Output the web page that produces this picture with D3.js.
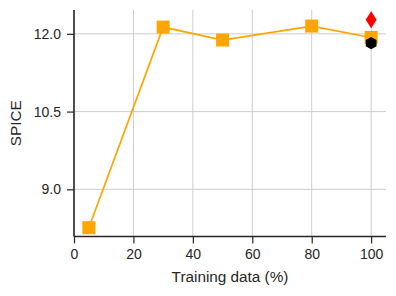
<!DOCTYPE html>
<html>
<head>
<meta charset="utf-8">
<script src="https://cdn.jsdelivr.net/npm/d3@7"></script>
<style>
  body { margin: 0; background: #fff; }
  svg { display: block; font-family: "Liberation Sans", Arial, sans-serif; }
</style>
</head>
<body>
<div id="chart"></div>
<script>
const trainPct = [5, 30, 50, 80, 100]
const spice = [8.26, 12.13, 11.88, 12.15, 11.93]
const extraRed = [{ x: 100, y: 12.27 }]
const extraBlack = [{ x: 100, y: 11.82 }]
const xTicks = [0, 20, 40, 60, 80, 100]
const yTicks = [9.0, 10.5, 12.0]

const W = 396, H = 296
const margin = { top: 10, right: 10, bottom: 59.5, left: 74 }
const width = W - margin.left - margin.right
const height = H - margin.top - margin.bottom

const svg = d3.select("#chart").append("svg")
    .attr("width", W).attr("height", H)

const g = svg.append("g")
    .attr("transform", `translate(${margin.left},${margin.top})`)

const x = d3.scaleLinear().domain([0, 105]).range([0, width])
const y = d3.scaleLinear().domain([8.09, 12.46]).range([height, 0])

// grid
g.selectAll(".vgrid").data(xTicks).enter().append("line")
    .attr("x1", d => x(d)).attr("x2", d => x(d))
    .attr("y1", 0).attr("y2", height)
    .attr("stroke", "#cccccc").attr("stroke-width", 1)
g.selectAll(".hgrid").data(yTicks).enter().append("line")
    .attr("x1", 0).attr("x2", width)
    .attr("y1", d => y(d)).attr("y2", d => y(d))
    .attr("stroke", "#cccccc").attr("stroke-width", 1)

// axes
const xAxis = g.append("g")
    .attr("transform", `translate(0,${height})`)
    .call(d3.axisBottom(x).tickValues(xTicks).tickSize(7).tickPadding(6).tickFormat(d3.format("d")))
const yAxis = g.append("g")
    .call(d3.axisLeft(y).tickValues(yTicks).tickSize(7).tickPadding(6).tickFormat(d3.format(".1f")))

;[xAxis, yAxis].forEach(a => {
    a.select(".domain").attr("stroke", "#262626").attr("stroke-width", 1.6)
    a.selectAll(".tick line").attr("stroke", "#262626").attr("stroke-width", 1.2)
    a.selectAll(".tick text").attr("fill", "#262626").style("font-size", "14px")
})
// spine on x axis should span full width
xAxis.select(".domain").attr("d", `M0,0H${width}`)
yAxis.select(".domain").attr("d", `M0,${height}V0`)

// line
const series = trainPct.map((t, i) => ({ x: t, y: spice[i] }))
g.append("path")
    .datum(series)
    .attr("fill", "none")
    .attr("stroke", "#ffa500")
    .attr("stroke-width", 1.7)
    .attr("d", d3.line().x(d => x(d.x)).y(d => y(d.y)))

g.selectAll(".sq").data(series).enter().append("rect")
    .attr("x", d => x(d.x) - 6.5).attr("y", d => y(d.y) - 6.5)
    .attr("width", 13).attr("height", 13)
    .attr("fill", "#ffa500")

// red diamond
g.selectAll(".dia").data(extraRed).enter().append("path")
    .attr("transform", d => `translate(${x(d.x)},${y(d.y)})`)
    .attr("d", "M0,-8.5L5.5,0L0,8.5L-5.5,0Z")
    .attr("fill", "#ff0000")

// black hexagon
const hex = d3.range(6).map(i => {
    const a = -Math.PI / 2 + i * Math.PI / 3
    return [6.2 * Math.cos(a), 6.2 * Math.sin(a)]
})
g.selectAll(".hex").data(extraBlack).enter().append("path")
    .attr("transform", d => `translate(${x(d.x)},${y(d.y)})`)
    .attr("d", "M" + hex.map(p => p.join(",")).join("L") + "Z")
    .attr("fill", "#000000")

// labels
svg.append("text")
    .attr("x", margin.left + width / 2).attr("y", 282)
    .attr("text-anchor", "middle")
    .attr("fill", "#262626").style("font-size", "15.3px")
    .text("Training data (%)")
svg.append("text")
    .attr("transform", `translate(21,${margin.top + height / 2}) rotate(-90)`)
    .attr("text-anchor", "middle")
    .attr("fill", "#262626").style("font-size", "15.3px")
    .text("SPICE")
</script>
</body>
</html>
